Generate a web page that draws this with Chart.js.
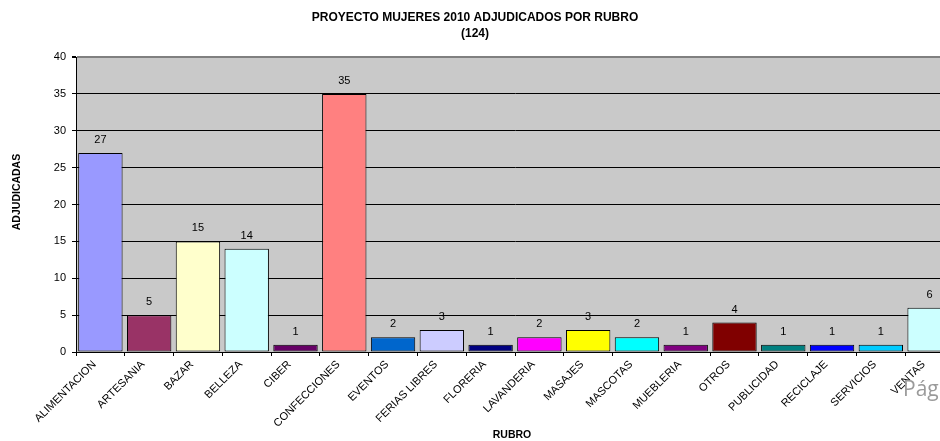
<!DOCTYPE html>
<html>
<head>
<meta charset="utf-8">
<script src="https://cdn.jsdelivr.net/npm/chart.js@4.4.0/dist/chart.umd.min.js"></script>
<style>
  html, body { margin: 0; padding: 0; background: #fff; overflow: hidden; }
  #wrap { width: 940px; height: 441px; overflow: hidden; position: relative; }
  canvas { display: block; }
</style>
</head>
<body>
<div id="wrap"><canvas id="chart" width="970" height="441"></canvas></div>
<script>
// datos
const rubros = ['ALIMENTACION', 'ARTESANIA', 'BAZAR', 'BELLEZA', 'CIBER', 'CONFECCIONES',
  'EVENTOS', 'FERIAS LIBRES', 'FLORERIA', 'LAVANDERIA', 'MASAJES', 'MASCOTAS',
  'MUEBLERIA', 'OTROS', 'PUBLICIDAD', 'RECICLAJE', 'SERVICIOS', 'VENTAS'];
const adjudicadas = [27, 5, 15, 14, 1, 35, 2, 3, 1, 2, 3, 2, 1, 4, 1, 1, 1, 6];
const colores = ['#9999FF', '#993366', '#FFFFCC', '#CCFFFF', '#660066', '#FF8080',
  '#0066CC', '#CCCCFF', '#000080', '#FF00FF', '#FFFF00', '#00FFFF',
  '#800080', '#800000', '#008080', '#0000FF', '#00CCFF', '#CCFFFF'];
const yTicks = [0, 5, 10, 15, 20, 25, 30, 35, 40];

const titulo = ['PROYECTO MUJERES 2010 ADJUDICADOS POR RUBRO', '(124)'];
const font = '"Liberation Sans", Arial, sans-serif';

// fondo gris del area de trazado y textos extra
const decoracion = {
  id: 'decoracion',
  beforeDraw(chart) {
    const { ctx, chartArea: a } = chart;
    ctx.save();
    ctx.fillStyle = '#C9C9C9';
    ctx.fillRect(a.left, a.top, a.right - a.left, a.bottom - a.top);
    ctx.restore();
  },
  afterDraw(chart) {
    const { ctx } = chart;
    ctx.save();
    ctx.fillStyle = '#000';
    ctx.textAlign = 'center';
    ctx.textBaseline = 'middle';
    ctx.font = 'bold 12px ' + font;
    ctx.fillText(titulo[0], 475, 18);
    ctx.fillText(titulo[1], 475, 34);

    ctx.font = 'bold 10.5px ' + font;
    ctx.fillText('RUBRO', 512, 435);
    ctx.translate(17, 192);
    ctx.rotate(-Math.PI / 2);
    ctx.fillText('ADJUDICADAS', 0, 0);
    ctx.restore();

    // etiquetas de valor sobre cada barra
    ctx.save();
    ctx.font = '11px ' + font;
    ctx.fillStyle = '#000';
    ctx.textAlign = 'center';
    ctx.textBaseline = 'middle';
    chart.getDatasetMeta(0).data.forEach((bar, i) => {
      ctx.fillText(String(adjudicadas[i]), bar.x, bar.y - 13);
    });
    ctx.restore();

    ctx.save();
    ctx.font = '21px "Open Sans", sans-serif';
    ctx.fillStyle = '#9A9A9A';
    ctx.textAlign = 'left';
    ctx.textBaseline = 'alphabetic';
    ctx.fillText('Pág', 903, 396);
    ctx.restore();
  }
};

new Chart(document.getElementById('chart'), {
  type: 'bar',
  data: {
    labels: rubros,
    datasets: [{
      data: adjudicadas,
      backgroundColor: colores,
      borderColor: '#000',
      borderWidth: 1,
      borderSkipped: false,
      barPercentage: 0.91,
      categoryPercentage: 1
    }]
  },
  options: {
    responsive: false,
    animation: false,
    layout: { padding: { top: 57, right: 16, left: 0, bottom: 0 } },
    plugins: { legend: { display: false }, tooltip: { enabled: false } },
    scales: {
      x: {
        afterFit(scale) { scale.height = 89; },
        grid: { offset: true, drawOnChartArea: false, drawTicks: true, tickLength: 4, color: '#000' },
        border: { color: '#000', width: 1 },
        ticks: {
          autoSkip: false, minRotation: 45, maxRotation: 45, padding: 2, labelOffset: -6,
          color: '#000', font: { family: font, size: 11 }
        }
      },
      y: {
        min: 0, max: 40,
        afterFit(scale) { scale.width = 76; },
        afterBuildTicks(scale) { scale.ticks = yTicks.map(v => ({ value: v })); },
        grid: {
          color: c => c.tick && c.tick.value === 40 ? '#808080' : '#000',
          lineWidth: c => c.tick && c.tick.value === 40 ? 2 : 1,
          tickColor: '#000', tickLength: 4
        },
        border: { color: '#000', width: 1 },
        ticks: { padding: 6, color: '#000', font: { family: font, size: 11 } }
      }
    }
  },
  plugins: [decoracion]
});
</script>
</body>
</html>
